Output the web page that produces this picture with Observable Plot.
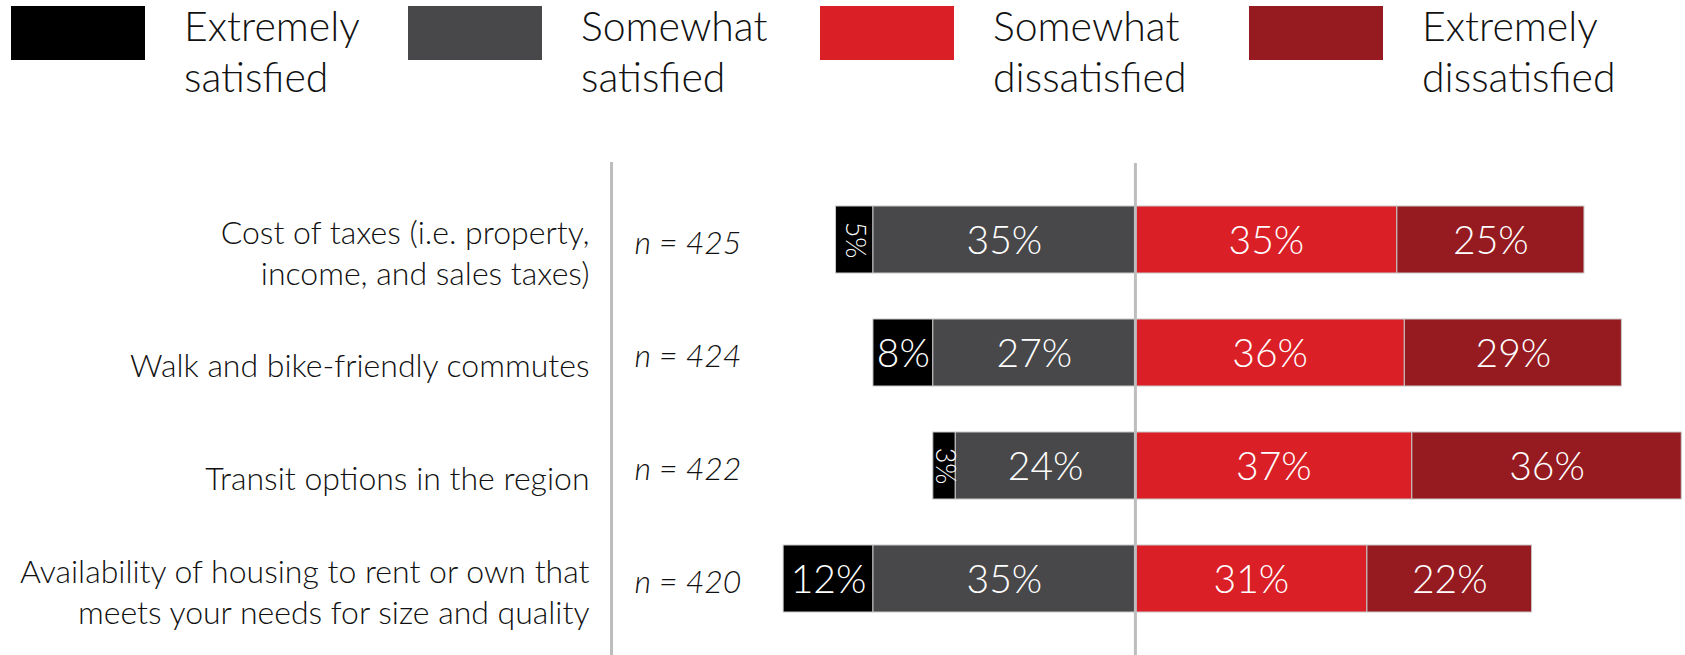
<!DOCTYPE html>
<html>
<head>
<meta charset="utf-8">
<script src="https://cdn.jsdelivr.net/npm/d3@7"></script>
<script src="https://cdn.jsdelivr.net/npm/@observablehq/plot@0.6"></script>
<style>
  html, body { margin: 0; padding: 0; background: #fff; }
  body { width: 1685px; height: 655px; overflow: hidden; font-family: Lato, "Noto Sans", sans-serif; font-weight: 300; }
  #legend { position: relative; height: 110px; }
  .item { position: absolute; top: 0; display: flex; }
  .swatch { width: 134px; height: 54px; margin-top: 6px; flex: none; }
  .label { margin-left: 39px; font-size: 41px; line-height: 51px; color: #111; white-space: nowrap; margin-top: 0px; }
  #chart svg { display: block; }
</style>
</head>
<body>
<div id="legend"></div>
<div id="chart"></div>
<script>
// Survey items (top to bottom) and the text shown beside each bar
const categories = [
  "Cost of taxes (i.e. property, income, and sales taxes)",
  "Walk and bike-friendly commutes",
  "Transit options in the region",
  "Availability of housing to rent or own that meets your needs for size and quality"
];
const categoryLabels = [
  "Cost of taxes (i.e. property,\nincome, and sales taxes)",
  "Walk and bike-friendly commutes",
  "Transit options in the region",
  "Availability of housing to rent or own that\nmeets your needs for size and quality"
];
const sampleSizes = [425, 424, 422, 420];

// Response levels and their colours
const levels = ["Extremely satisfied", "Somewhat satisfied", "Somewhat dissatisfied", "Extremely dissatisfied"];
const levelColors = ["#000000", "#48484a", "#da1f27", "#961b21"];

// Percent of respondents per level, one value per item
const extremelySatisfied    = [5, 8, 3, 12];
const somewhatSatisfied     = [35, 27, 24, 35];
const somewhatDissatisfied  = [35, 36, 37, 31];
const extremelyDissatisfied = [25, 29, 36, 22];

// Diverging segments: satisfied to the left of zero, dissatisfied to the right
const segments = categories.flatMap((category, i) => {
  const es = extremelySatisfied[i], ss = somewhatSatisfied[i];
  const sd = somewhatDissatisfied[i], ed = extremelyDissatisfied[i];
  return [
    {category, level: levels[0], value: es, x1: -(es + ss), x2: -ss},
    {category, level: levels[1], value: ss, x1: -ss, x2: 0},
    {category, level: levels[2], value: sd, x1: 0, x2: sd},
    {category, level: levels[3], value: ed, x1: sd, x2: sd + ed}
  ];
});
const wide = d => d.value >= 6;

// Legend above the chart
const legendLeft = [11, 408, 820, 1249];
const legend = document.getElementById("legend");
levels.forEach((level, i) => {
  const item = document.createElement("div");
  item.className = "item";
  item.style.left = legendLeft[i] + "px";
  const sw = document.createElement("div");
  sw.className = "swatch";
  sw.style.background = levelColors[i];
  const lab = document.createElement("div");
  lab.className = "label";
  const [first, ...rest] = level.split(" ");
  lab.innerHTML = first + "<br>" + rest.join(" ");
  item.append(sw, lab);
  legend.append(item);
});

const chart = Plot.plot({
  width: 1685,
  height: 545,
  marginLeft: 611,
  marginRight: 0,
  marginTop: 53,
  marginBottom: 0,
  style: {fontFamily: "Lato, 'Noto Sans', sans-serif", fontWeight: 300, background: "#fff"},
  x: {domain: [-70, 73.5], axis: null},
  y: {domain: categories, range: [71.5, 527], paddingInner: 0.41, paddingOuter: 0.205, axis: null},
  color: {domain: levels, range: levelColors},
  marks: [
    Plot.barX(segments, {y: "category", x1: "x1", x2: "x2", fill: "level", stroke: "#c8c8c8", strokeWidth: 1}),
    Plot.text(segments, {
      filter: wide, y: "category", x: d => (d.x1 + d.x2) / 2,
      text: d => `${d.value}%`, fill: "white", fontSize: 39, dy: 2
    }),
    Plot.text(segments, {
      filter: d => !wide(d), y: "category", x: d => (d.x1 + d.x2) / 2,
      text: d => `${d.value}%`, fill: "white", fontSize: 27, rotate: 90
    }),
    Plot.ruleX([0], {stroke: "#bdbdbd", strokeWidth: 3}),
    Plot.frame({anchor: "left", stroke: "#bdbdbd", strokeWidth: 3}),
    Plot.text(categories, {
      y: d => d, text: (d, i) => categoryLabels[i], frameAnchor: "left",
      textAnchor: "end", dx: -22, dy: 11, fontSize: 32, lineHeight: 1.28, fill: "#111"
    }),
    Plot.text(categories, {
      y: d => d, text: (d, i) => `n = ${sampleSizes[i]}`, frameAnchor: "left",
      textAnchor: "start", dx: 23, dy: 4, fontSize: 32, fontStyle: "italic", fill: "#111"
    })
  ]
});
document.getElementById("chart").append(chart);
</script>
</body>
</html>
